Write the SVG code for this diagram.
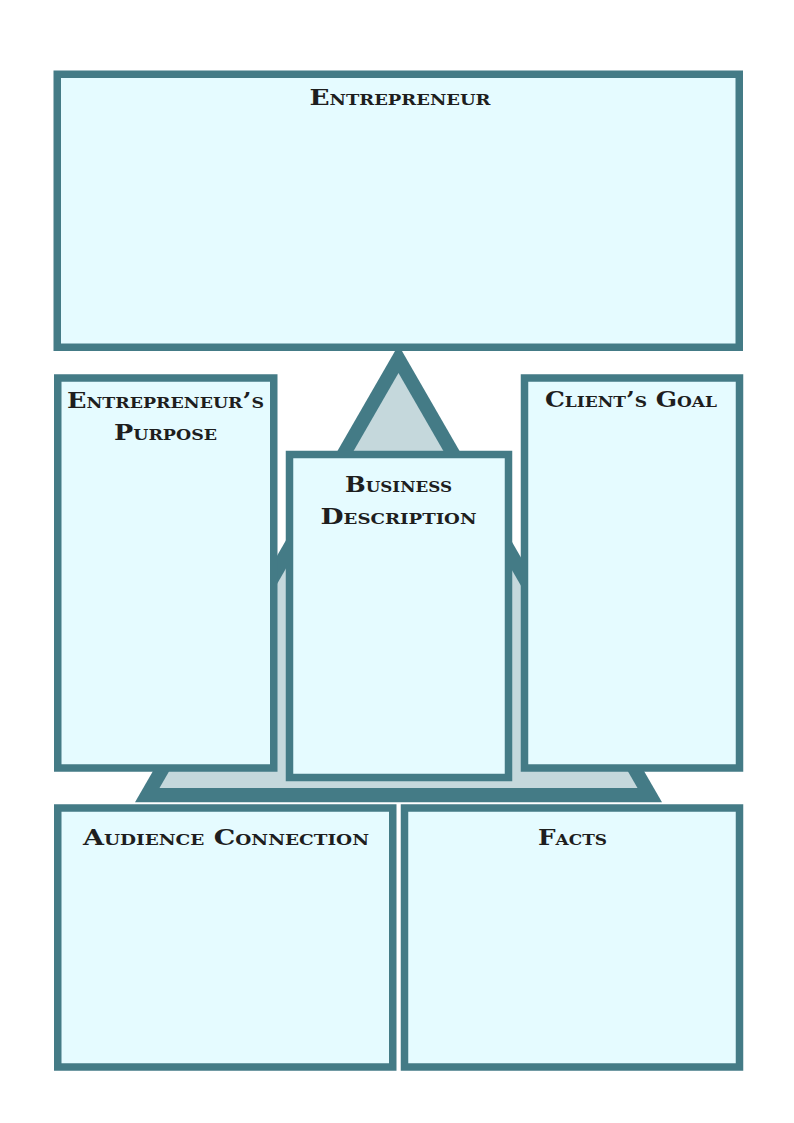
<svg xmlns="http://www.w3.org/2000/svg" width="794" height="1123" viewBox="0 0 794 1123">
<style>
.box{fill:#e5fbff;stroke:#447b86;stroke-width:7.5}
.t{font-family:"DejaVu Serif","Liberation Serif",serif;font-weight:bold;font-variant:small-caps;font-size:22px;fill:#1e1e1e;text-anchor:middle}
</style>
<rect width="794" height="1123" fill="#ffffff"/>
<g id="connectors">
<polygon points="398.5,345 135,802.3 662,802.3" fill="#447b86"/>
<polygon points="398.5,373 159.5,788 637.5,788" fill="#c5d8dc"/>
</g>
<g id="entrepreneur">
<rect class="box" x="57.25" y="74.25" width="682" height="273"/>
<text class="t" x="400" y="104.5" textLength="181" lengthAdjust="spacingAndGlyphs">Entrepreneur</text>
</g>
<g id="purpose">
<rect class="box" x="57.75" y="378" width="216" height="390"/>
<text class="t" x="165.5" y="408" textLength="197" lengthAdjust="spacingAndGlyphs">Entrepreneur’s</text>
<text class="t" x="165.5" y="440" textLength="103" lengthAdjust="spacingAndGlyphs">Purpose</text>
</g>
<g id="business">
<rect class="box" x="289.5" y="454.5" width="219" height="323"/>
<text class="t" x="398.5" y="492" textLength="107" lengthAdjust="spacingAndGlyphs">Business</text>
<text class="t" x="398.5" y="523.5" textLength="156" lengthAdjust="spacingAndGlyphs">Description</text>
</g>
<g id="goal">
<rect class="box" x="524.5" y="378" width="215" height="390"/>
<text class="t" x="631" y="407" textLength="172" lengthAdjust="spacingAndGlyphs">Client’s Goal</text>
</g>
<g id="audience">
<rect class="box" x="57.75" y="808" width="335" height="259"/>
<text class="t" x="226" y="845" textLength="286" lengthAdjust="spacingAndGlyphs">Audience Connection</text>
</g>
<g id="facts">
<rect class="box" x="404.5" y="808" width="335" height="259"/>
<text class="t" x="572.5" y="845" textLength="69" lengthAdjust="spacingAndGlyphs">Facts</text>
</g>
</svg>
